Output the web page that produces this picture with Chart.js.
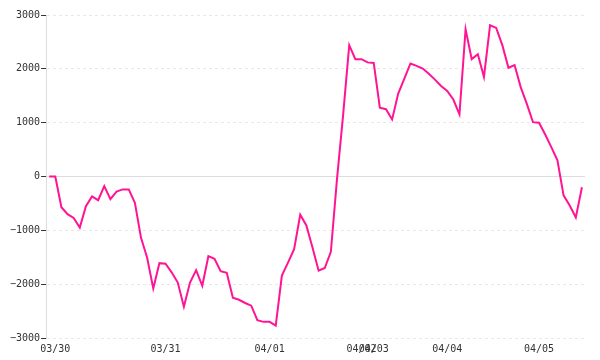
<!DOCTYPE html>
<html>
<head>
<meta charset="utf-8">
<script src="https://cdn.jsdelivr.net/npm/chart.js@4/dist/chart.umd.min.js"></script>
<style>
  html, body { margin: 0; padding: 0; background: #fff; }
  #wrap { width: 600px; height: 360px; }
</style>
</head>
<body>
<div id="wrap"><canvas id="grafica"></canvas></div>
<script>
// Días y el índice del primer punto de cada día
const dias = ['03/30', '03/31', '04/01', '04/02', '04/03', '04/04', '04/05'];
const inicioDia = [1, 19, 36, 51, 53, 65, 80];

// Valores de la serie (88 puntos)
const valores = [
  0, 0, -570, -700, -770, -950, -550, -370, -440, -180,
  -420, -280, -240, -240, -490, -1140, -1510, -2080, -1610, -1620,
  -1780, -1970, -2420, -1970, -1740, -2030, -1480, -1530, -1760, -1790,
  -2250, -2290, -2350, -2400, -2670, -2700, -2700, -2770, -1840, -1600,
  -1350, -710, -910, -1320, -1750, -1700, -1400, -50, 1140, 2440,
  2180, 2180, 2120, 2110, 1280, 1250, 1060, 1540, 1820, 2100,
  2055, 2005, 1910, 1800, 1680, 1590, 1430, 1155, 2735, 2180,
  2270, 1850, 2810, 2760, 2440, 2020, 2070, 1660, 1350, 1010,
  1000, 780, 545, 300, -350, -540, -760, -200
];

// Ticks del eje Y
const ticksY = [-3000, -2000, -1000, 0, 1000, 2000, 3000];

// Etiquetas: solo el primer punto de cada día lleva texto
const etiquetas = valores.map(() => '');
inicioDia.forEach((idx, i) => { etiquetas[idx] = dias[i]; });

const fuente = { family: 'DejaVu Sans Mono', size: 10 };

new Chart(document.getElementById('grafica'), {
  type: 'line',
  data: {
    labels: etiquetas,
    datasets: [{
      data: valores,
      borderColor: '#ff1493',
      borderWidth: 2,
      pointRadius: 0,
      tension: 0,
      fill: false
    }]
  },
  options: {
    responsive: true,
    maintainAspectRatio: false,
    animation: false,
    layout: { padding: { left: 9, right: 15, top: 15, bottom: 0 } },
    plugins: {
      legend: { display: false },
      tooltip: { enabled: false }
    },
    scales: {
      x: {
        type: 'category',
        offset: true,
        grid: { display: false, drawTicks: false },
        border: { display: false },
        ticks: {
          autoSkip: false,
          maxRotation: 0,
          minRotation: 0,
          padding: 6,
          color: '#333',
          font: { family: 'DejaVu Sans Mono', size: 10, lineHeight: 1 }
        }
      },
      y: {
        min: ticksY[0],
        max: ticksY[ticksY.length - 1],
        afterBuildTicks: (scale) => { scale.ticks = ticksY.map(v => ({ value: v })); },
        grid: {
          color: (ctx) => (ctx.tick && ctx.tick.value === 0 ? '#dddddd' : '#e8e8e8'),
          tickColor: '#333',
          tickLength: 5,
          tickBorderDash: []
        },
        border: {
          display: true,
          color: '#dddddd',
          dash: (ctx) => (ctx.tick && ctx.tick.value === 0 ? [] : [3, 3])
        },
        ticks: {
          padding: 1,
          color: '#333',
          font: fuente,
          callback: (v) => (v < 0 ? '\u2212' + Math.abs(v) : String(v))
        }
      }
    }
  }
});
</script>
</body>
</html>
